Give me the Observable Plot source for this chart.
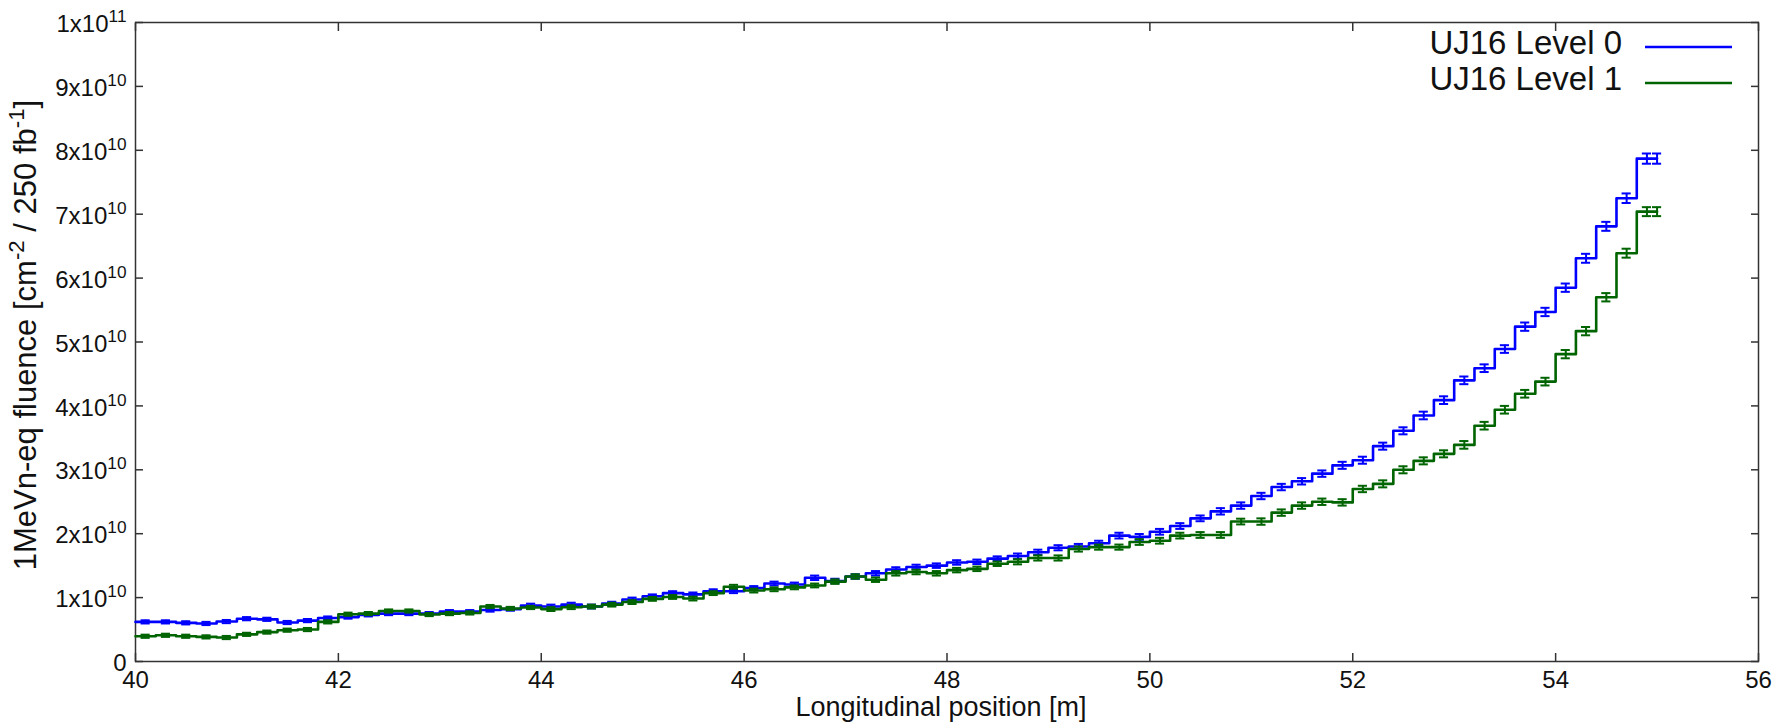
<!DOCTYPE html>
<html><head><meta charset="utf-8">
<script src="https://cdn.jsdelivr.net/npm/d3@7"></script>
<script src="https://cdn.jsdelivr.net/npm/@observablehq/plot@0.6"></script>
<style>
body{margin:0;background:#fff;}
#chart{position:relative;width:1791px;height:724px;}
</style>
</head><body><div id="chart"></div>
<script>
// Histogram bins: 0.2 m wide starting at 40 m
const binStart = 40;
const binWidth = 0.2;
// Values in units of 1e9 cm^-2 / 250 fb^-1
const level0 = [6.2,6.2,6.05,5.95,6.25,6.7,6.6,6.1,6.4,6.8,
  6.95,7.3,7.5,7.5,7.5,7.8,7.8,8.05,8.2,8.75,
  8.6,8.9,8.6,9.05,9.7,10.2,10.7,10.5,11.0,11.0,
  11.5,12.2,12.05,13.1,12.6,13.3,13.8,14.4,14.8,15.0,
  15.5,15.6,16.1,16.5,17.1,17.8,18.0,18.5,19.7,19.5,
  20.3,21.2,22.4,23.5,24.4,25.9,27.3,28.2,29.4,30.7,
  31.5,33.7,36.1,38.5,40.9,44.0,45.9,48.9,52.4,54.7,
  58.5,63.1,68.1,72.5,78.7];
const level0Err = [0.25,0.25,0.25,0.25,0.25,0.25,0.25,0.25,0.25,0.25,
  0.25,0.25,0.25,0.25,0.25,0.25,0.25,0.25,0.25,0.3,
  0.3,0.3,0.3,0.3,0.3,0.3,0.3,0.3,0.3,0.3,
  0.3,0.3,0.3,0.35,0.35,0.35,0.35,0.35,0.35,0.35,
  0.35,0.35,0.35,0.4,0.4,0.4,0.4,0.4,0.45,0.45,
  0.45,0.45,0.45,0.5,0.5,0.5,0.5,0.5,0.5,0.55,
  0.55,0.55,0.55,0.6,0.6,0.6,0.6,0.6,0.65,0.65,
  0.65,0.7,0.7,0.75,0.8];
const level1 = [3.95,4.1,3.95,3.85,3.75,4.25,4.6,4.9,5.0,6.2,
  7.4,7.5,7.9,7.9,7.35,7.5,7.6,8.6,8.3,8.45,
  8.2,8.5,8.6,8.9,9.3,9.8,10.1,9.85,10.7,11.7,
  11.1,11.3,11.6,11.9,12.5,13.3,12.8,13.8,14.0,13.8,
  14.3,14.5,15.3,15.6,16.2,16.2,17.6,17.9,17.9,18.7,
  18.9,19.7,19.8,19.8,21.9,21.9,23.3,24.4,25.0,24.9,
  27.0,27.8,30.0,31.4,32.5,33.9,36.9,39.4,41.9,43.8,
  48.1,51.7,57.0,63.9,70.4];
const level1Err = [0.25,0.25,0.25,0.25,0.25,0.25,0.25,0.25,0.25,0.25,
  0.25,0.25,0.25,0.25,0.25,0.25,0.25,0.25,0.25,0.25,
  0.3,0.3,0.3,0.3,0.3,0.3,0.3,0.3,0.3,0.3,
  0.3,0.3,0.3,0.3,0.35,0.35,0.35,0.35,0.35,0.35,
  0.35,0.35,0.35,0.4,0.4,0.4,0.4,0.4,0.4,0.45,
  0.45,0.45,0.45,0.45,0.45,0.5,0.5,0.5,0.5,0.5,
  0.5,0.55,0.55,0.55,0.55,0.6,0.6,0.6,0.6,0.6,
  0.65,0.65,0.65,0.7,0.7];
const seriesNames = ["UJ16 Level 0", "UJ16 Level 1"];
const seriesColors = ["#0000ff", "#006400"];
const xTicks = [40, 42, 44, 46, 48, 50, 52, 54, 56];
const yTicks = [0, 1e10, 2e10, 3e10, 4e10, 5e10, 6e10, 7e10, 8e10, 9e10, 1e11];
const yTickLabels = ["0", "1x10^10", "2x10^10", "3x10^10", "4x10^10", "5x10^10", "6x10^10", "7x10^10", "8x10^10", "9x10^10", "1x10^11"];
const xLabel = "Longitudinal position [m]";
const yLabel = "1MeVn-eq fluence [cm^-2^ / 250 fb^-1^]";

const FONT = "'Liberation Sans', Arial, Helvetica, sans-serif";
const capHalf = 0.045;

function build(vals, errs, name) {
  const n = vals.length;
  const steps = vals.map((v, i) => ({x: binStart + i * binWidth, y: v * 1e9, s: name}));
  steps.push({x: binStart + n * binWidth, y: vals[n - 1] * 1e9, s: name});
  const bars = vals.map((v, i) => ({x: binStart + (i + 0.5) * binWidth, y: v * 1e9, e: errs[i] * 1e9, s: name}));
  bars.push({x: binStart + n * binWidth, y: vals[n - 1] * 1e9, e: errs[n - 1] * 1e9, s: name});
  return {steps, bars};
}
const series = [build(level0, level0Err, seriesNames[0]), build(level1, level1Err, seriesNames[1])];

const marks = [Plot.frame({stroke: "#333", strokeWidth: 1.5})];
for (const {steps, bars} of series) {
  marks.push(
    Plot.line(steps, {x: "x", y: "y", stroke: "s", curve: "step-after", strokeWidth: 2.6}),
    Plot.ruleX(bars, {x: "x", y1: d => d.y - d.e, y2: d => d.y + d.e, stroke: "s", strokeWidth: 2}),
    Plot.ruleY(bars, {y: d => d.y + d.e, x1: d => d.x - capHalf, x2: d => d.x + capHalf, stroke: "s", strokeWidth: 2}),
    Plot.ruleY(bars, {y: d => d.y - d.e, x1: d => d.x - capHalf, x2: d => d.x + capHalf, stroke: "s", strokeWidth: 2})
  );
}
const tickStyle = {stroke: "#333", strokeWidth: 1.5, tickFormat: () => "", label: null};
marks.push(
  Plot.axisX({anchor: "bottom", ticks: xTicks, tickSize: -8, ...tickStyle}),
  Plot.axisX({anchor: "top", ticks: xTicks, tickSize: -8, ...tickStyle}),
  Plot.axisY({anchor: "left", ticks: yTicks, tickSize: -8, ...tickStyle}),
  Plot.axisY({anchor: "right", ticks: yTicks, tickSize: -8, ...tickStyle}),
  Plot.axisX({anchor: "bottom", ticks: xTicks, tickSize: 0, tickPadding: 9, tickFormat: d => String(d), fill: "#111", fontSize: 24, label: null}),
  Plot.axisY({anchor: "left", ticks: yTicks, tickSize: 0, tickPadding: 9, dy: 2, tickFormat: d => yTickLabels[yTicks.indexOf(d)], fill: "#111", fontSize: 24, label: null}),
  Plot.text([xLabel], {frameAnchor: "bottom", textAnchor: "middle", lineAnchor: "middle", dx: -6, dy: 46, fontSize: 27, fill: "#111"}),
  Plot.text([yLabel], {frameAnchor: "left", textAnchor: "middle", lineAnchor: "middle", rotate: -90, dx: -109, dy: -7, fontSize: 31, fill: "#111"})
);

const plot = Plot.plot({
  width: 1791, height: 724,
  marginLeft: 135, marginRight: 33, marginTop: 22, marginBottom: 63,
  x: {domain: [40, 56], axis: null},
  y: {domain: [0, 1e11], axis: null},
  color: {domain: seriesNames, range: seriesColors},
  style: {fontFamily: FONT, background: "#fff"},
  marks
});
document.getElementById("chart").appendChild(plot);

// superscripts: "a^b^c"
function supify(textEl, supRaiseEm, supScale) {
  const raw = textEl.textContent;
  if (!raw.includes("^")) return;
  const fs = parseFloat(getComputedStyle(textEl).fontSize);
  const parts = raw.split("^");
  textEl.textContent = "";
  const raise = fs * supRaiseEm;
  parts.forEach((p, i) => {
    if (!p) return;
    const t = document.createElementNS("http://www.w3.org/2000/svg", "tspan");
    t.textContent = p;
    if (i % 2 === 1) {
      t.setAttribute("font-size", fs * supScale);
      t.setAttribute("dy", -raise);
    } else if (i > 0) {
      t.setAttribute("dy", raise);
    }
    textEl.appendChild(t);
  });
}
const svg = d3.select(plot);
// drop the empty labels of the tick-only axes
svg.selectAll('g[aria-label$="tick label"] text').filter(function() { return this.textContent === ""; }).remove();
svg.selectAll('g[aria-label="y-axis tick label"] text').each(function() {
  const raw = this.textContent;
  if (raw.includes("^")) this.textContent = raw + "^";
  supify(this, 0.42, 0.72);
});
svg.selectAll('g[aria-label="text"] text').each(function() { supify(this, 0.4, 0.72); });

// legend
const legend = svg.append("g").attr("font-family", FONT).attr("font-size", 33);
seriesNames.forEach((name, i) => {
  const y = 54 + i * 36;
  legend.append("text").attr("x", 1622).attr("y", y).attr("text-anchor", "end").attr("fill", "#111").text(name);
  legend.append("line").attr("x1", 1645).attr("x2", 1732).attr("y1", y - 7).attr("y2", y - 7)
    .attr("stroke", seriesColors[i]).attr("stroke-width", 2.6);
});
</script>
</body></html>
